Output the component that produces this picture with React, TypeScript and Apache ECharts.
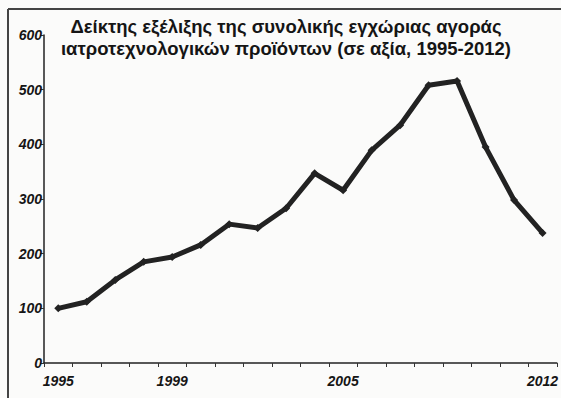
import React, { useEffect, useRef } from "react";
import * as echarts from "echarts";

const years = ["1995","1996","1997","1998","1999","2000","2001","2002","2003","2004","2005","2006","2007","2008","2009","2010","2011","2012"];
const indexValues = [100, 112, 152, 185, 194, 216, 254, 247, 283, 347, 316, 389, 435, 508, 516, 395, 298, 238];
const shownYears = ["1995", "1999", "2005", "2012"];
const titleLines = [
  "Δείκτης εξέλιξης της συνολικής εγχώριας αγοράς",
  "ιατροτεχνολογικών προϊόντων (σε αξία, 1995-2012)",
];

export default function App() {
  const ref = useRef<HTMLDivElement>(null);
  useEffect(() => {
    if (!ref.current) return;
    const chart = echarts.init(ref.current, null, { renderer: "svg" });
    const font = "Liberation Sans, Arial, sans-serif";
    chart.setOption({
      animation: false,
      backgroundColor: "#fbfbfa",
      title: {
        text: titleLines.join("\n"),
        left: 286,
        textAlign: "center",
        top: 15,
        padding: 0,
        textStyle: {
          fontFamily: font,
          fontWeight: "bold",
          fontSize: 18.5,
          color: "#151515",
          lineHeight: 22,
        },
      },
      grid: { left: 44, right: 0, top: 35, bottom: 35, containLabel: false },
      xAxis: {
        type: "category",
        data: years,
        boundaryGap: true,
        axisLine: { lineStyle: { color: "#222", width: 1.5 } },
        axisTick: { show: true, length: 4, lineStyle: { color: "#333" }, alignWithLabel: false },
        axisLabel: {
          interval: 0,
          formatter: (v: string) => (shownYears.includes(v) ? v : ""),
          fontFamily: font,
          fontWeight: "bold",
          fontStyle: "italic",
          fontSize: 14,
          color: "#151515",
          margin: 11,
        },
        splitLine: { show: false },
      },
      yAxis: {
        type: "value",
        min: 0,
        max: 600,
        interval: 100,
        axisLine: { show: true, lineStyle: { color: "#222", width: 1.5 } },
        axisTick: { show: true, length: 4, lineStyle: { color: "#333" } },
        axisLabel: {
          fontFamily: font,
          fontWeight: "bold",
          fontStyle: "italic",
          fontSize: 14,
          color: "#151515",
          margin: 2,
        },
        splitLine: { show: false },
      },
      series: [
        {
          type: "line",
          data: indexValues,
          lineStyle: { color: "#222", width: 5 },
          itemStyle: { color: "#222" },
          symbol: "diamond",
          symbolSize: 8,
          showSymbol: true,
        },
      ],
      graphic: [
        { type: "line", shape: { x1: 8, y1: 9, x2: 8, y2: 398 }, style: { stroke: "#444", lineWidth: 2 } },
        { type: "line", shape: { x1: 8, y1: 9, x2: 561, y2: 9 }, style: { stroke: "#444", lineWidth: 2 } },
      ],
    });
    return () => chart.dispose();
  }, []);
  return <div ref={ref} style={{ position: "fixed", left: 0, top: 0, width: 561, height: 398 }} />;
}
